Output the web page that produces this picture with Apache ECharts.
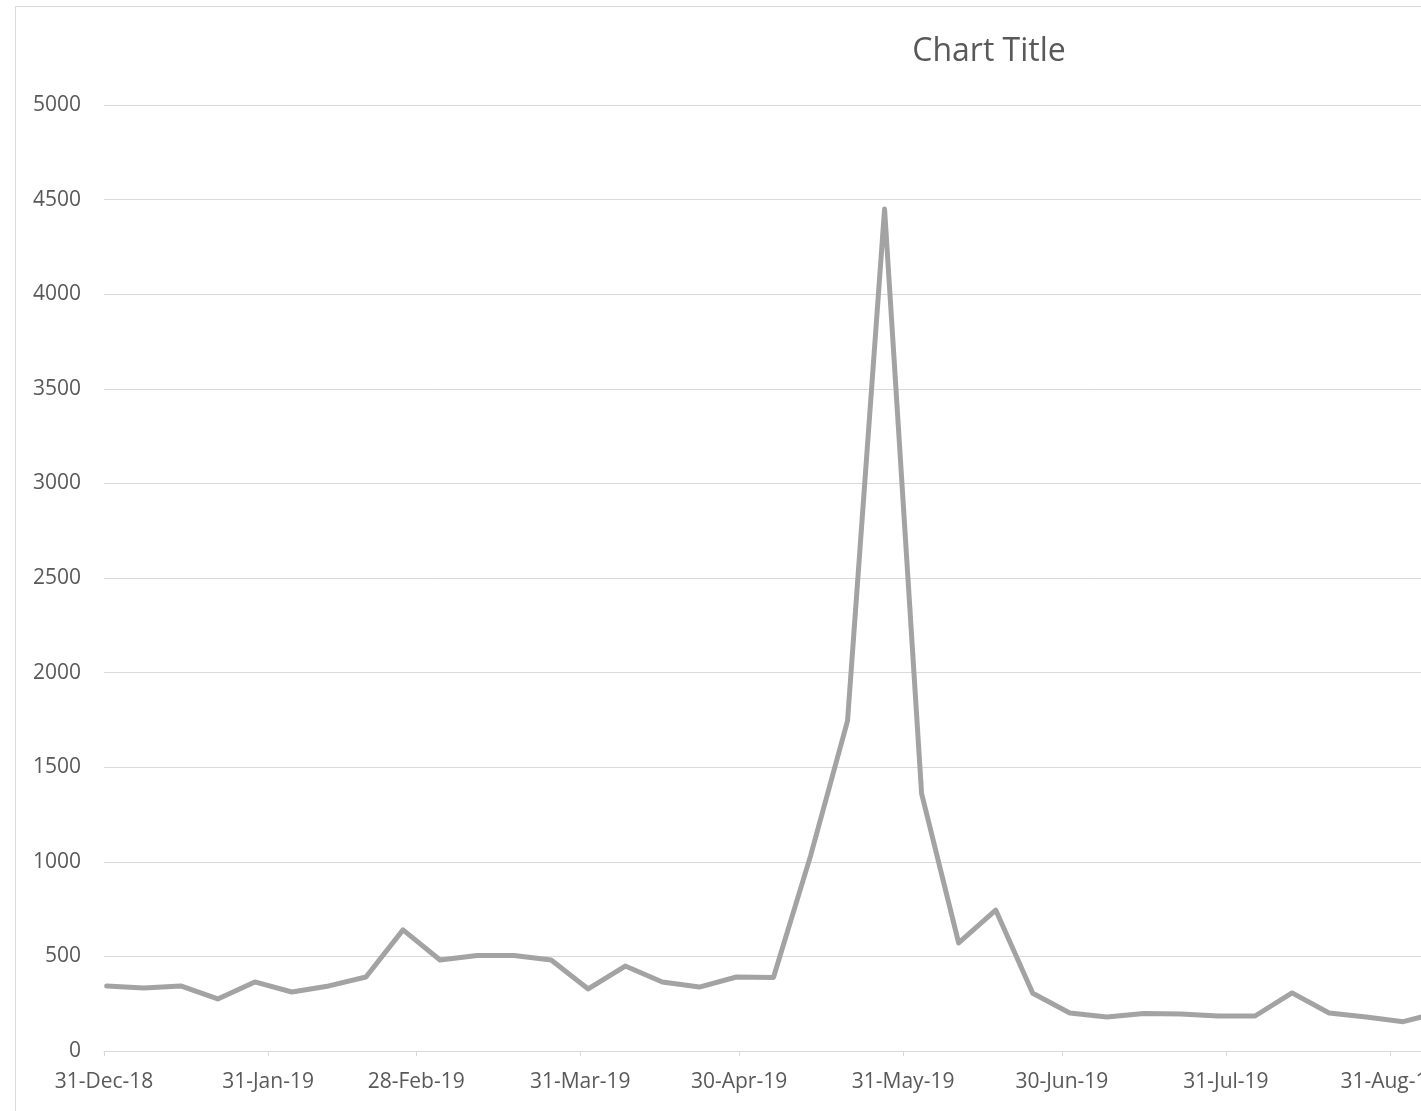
<!DOCTYPE html>
<html>
<head>
<meta charset="utf-8">
<script src="https://cdn.jsdelivr.net/npm/echarts@6/dist/echarts.min.js"></script>
<style>
html,body{margin:0;padding:0;background:#fff;}
#chart{width:1421px;height:1111px;}
</style>
</head>
<body>
<div id="chart"></div>
<script>
// Weekly dates (categories)
var dates = [
  '2018-12-31','2019-01-07','2019-01-14','2019-01-21','2019-01-28',
  '2019-02-04','2019-02-11','2019-02-18','2019-02-25','2019-03-04',
  '2019-03-11','2019-03-18','2019-03-25','2019-04-01','2019-04-08',
  '2019-04-15','2019-04-22','2019-04-29','2019-05-06','2019-05-13',
  '2019-05-20','2019-05-27','2019-06-03','2019-06-10','2019-06-17',
  '2019-06-24','2019-07-01','2019-07-08','2019-07-15','2019-07-22',
  '2019-07-29','2019-08-05','2019-08-12','2019-08-19','2019-08-26',
  '2019-09-02','2019-09-09'
];
// Series values
var values = [
  344, 333, 344, 275, 365,
  312, 344, 391, 640, 481,
  505, 505, 481, 328, 449,
  365, 338, 391, 388, 1030,
  1745, 4450, 1360, 571, 745,
  305, 201, 180, 198, 196,
  185, 185, 307, 201, 180,
  155, 205
];
// X tick dates and labels
var xTickDates = ['2018-12-31','2019-01-31','2019-02-28','2019-03-31','2019-04-30','2019-05-31','2019-06-30','2019-07-31','2019-08-31'];
var xTickLabels = ['31-Dec-18','31-Jan-19','28-Feb-19','31-Mar-19','30-Apr-19','31-May-19','30-Jun-19','31-Jul-19','31-Aug-19'];
// Y ticks
var yMin = 0, yMax = 5000, yInterval = 500;
var titleText = 'Chart Title';

var DAY = 86400000;
function dayOf(s){
  var p = s.split('-');
  return Math.round((Date.UTC(+p[0], +p[1]-1, +p[2]) - Date.UTC(2018, 11, 31)) / DAY);
}
var xTickDays = xTickDates.map(dayOf);
// each point sits in the middle of its one-day slot (date axis, between tick marks)
var seriesData = dates.map(function(d, i){ return [dayOf(d) + 0.5, values[i]]; });
var xMax = dayOf(dates[dates.length-1]) + 1;
var pxPerDay = 5.292;

var font = '"Open Sans", "Liberation Sans", sans-serif';
var textColor = '#595959';

var chart = echarts.init(document.getElementById('chart'), null, {renderer:'canvas'});
chart.setOption({
  animation: false,
  backgroundColor: '#ffffff',
  title: {
    text: titleText,
    left: 984, top: 31,
    textAlign: 'center',
    textStyle: {fontFamily: font, fontSize: 32, fontWeight: 'normal', color: textColor}
  },
  graphic: [{
    type: 'rect', z: -1, silent: true,
    shape: {x: 15.5, y: 6.5, width: 3000, height: 3000},
    style: {fill: 'none', stroke: '#d9d9d9', lineWidth: 1}
  }],
  grid: {
    left: 104, top: 105, height: 946,
    width: xMax * pxPerDay,
    containLabel: false,
    outerBoundsMode: 'none'
  },
  xAxis: {
    type: 'value',
    min: 0, max: xMax,
    splitLine: {show: false},
    axisLine: {show: true, lineStyle: {color: '#d9d9d9', width: 1}},
    axisTick: {show: true, customValues: xTickDays, length: 5, lineStyle: {color: '#d9d9d9'}},
    axisLabel: {
      customValues: xTickDays,
      margin: 21,
      fontFamily: font, fontSize: 21, color: textColor,
      formatter: function(v){
        var i = xTickDays.indexOf(Math.round(v));
        return i >= 0 ? xTickLabels[i] : '';
      }
    }
  },
  yAxis: {
    type: 'value',
    min: yMin, max: yMax, interval: yInterval,
    axisLine: {show: false},
    axisTick: {show: false},
    splitLine: {show: true, lineStyle: {color: '#d9d9d9', width: 1}},
    axisLabel: {
      margin: 23, fontFamily: font, fontSize: 21, color: textColor,
      formatter: function(v){ return String(v); }
    }
  },
  series: [{
    type: 'line',
    data: seriesData,
    symbol: 'none',
    lineStyle: {color: '#a3a3a3', width: 5, join: 'round', cap: 'round'},
    itemStyle: {color: '#a3a3a3'}
  }]
});
</script>
</body>
</html>
